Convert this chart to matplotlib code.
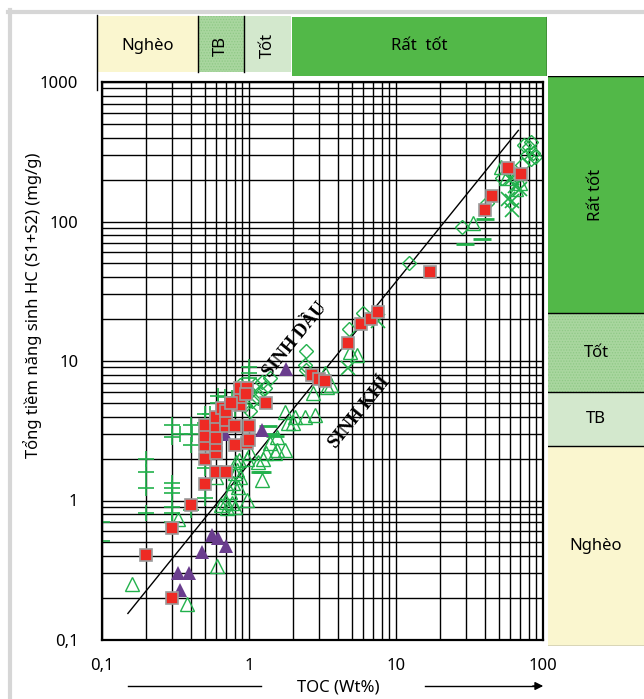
import matplotlib.pyplot as plt
from matplotlib.lines import Line2D

plt.rcParams['font.family'] = ['Noto Sans', 'DejaVu Sans']
plt.rcParams['hatch.linewidth'] = 0.6

# --- data (TOC wt%, S1+S2 mg/g) ---
red_x = [0.2, 0.3, 0.3, 0.4, 0.5, 0.5, 0.5, 0.5, 0.5, 0.6, 0.6, 0.6, 0.6, 0.6,
         0.6, 0.66, 0.7, 0.7, 0.7, 0.7, 0.8, 0.8, 0.87, 0.87, 0.87, 0.97, 0.97,
         1.0, 1.0, 1.3, 0.95, 0.75, 2.7, 3.0, 3.3, 4.7, 5.8, 6.8, 7.5, 17, 40,
         45, 58, 71]
red_y = [0.41, 0.2, 0.63, 0.93, 1.32, 2.0, 2.5, 2.9, 3.5, 1.6, 2.2, 2.5, 2.8,
         3.4, 4.0, 4.6, 1.6, 3.4, 3.8, 4.4, 2.5, 3.4, 4.8, 5.5, 6.4, 6.4, 2.6,
         3.4, 2.7, 5.0, 5.8, 5.0, 7.9, 7.4, 7.2, 13.5, 18.4, 20, 22.4, 43.5, 121,
         152, 242, 219]

purple_x = [0.33, 0.39, 0.34, 0.48, 0.56, 0.62, 0.70, 0.69, 1.22, 1.79]
purple_y = [0.30, 0.30, 0.23, 0.43, 0.57, 0.54, 0.47, 3.0, 3.2, 8.8]

tri_x = [0.16, 0.38, 0.61, 0.33, 0.65, 0.70, 0.77, 0.71, 0.80, 0.97, 0.60, 0.74,
         0.84, 0.81, 0.85, 0.97, 1.01, 1.15, 1.24, 1.22, 1.30, 1.50, 0.80, 0.87,
         0.78, 0.83, 1.76, 1.84, 1.55, 1.39, 1.55, 1.76, 2.05, 2.4, 2.8, 2.0,
         2.73, 3.4, 3.6, 4.86, 5.4, 3.3, 51.8, 56, 70, 66, 33.4]
tri_y = [0.25, 0.18, 0.34, 0.74, 0.93, 0.98, 0.96, 0.88, 0.90, 1.01, 1.47, 1.15,
         1.25, 1.88, 1.96, 2.0, 2.2, 1.88, 2.0, 1.4, 2.2, 2.2, 1.57, 1.47, 1.33,
         1.65, 4.3, 3.6, 2.85, 2.6, 2.3, 2.3, 4.0, 4.0, 4.1, 3.6, 5.9, 6.5, 6.7,
         11.6, 11.0, 8.2, 245, 205, 190, 170, 98]

plus_x = [0.1, 0.1, 0.2, 0.2, 0.2, 0.2, 0.3, 0.3, 0.3, 0.3, 0.3, 0.3, 0.3, 0.3,
          0.4, 0.4, 0.4, 0.5, 0.5, 0.5, 0.5, 0.62, 0.62, 0.62, 0.69, 1.0, 1.0,
          1.0, 0.77, 0.8, 0.54, 0.52, 0.41, 0.34]
plus_y = [0.7, 0.51, 2.0, 1.6, 1.23, 0.81, 1.33, 1.23, 1.13, 0.9, 0.81, 0.7,
          3.5, 2.85, 3.5, 2.5, 0.85, 4.2, 3.6, 1.7, 1.04, 5.0, 5.6, 3.9, 5.5,
          8.2, 7.5, 9.0, 5.4, 4.5, 4.2, 3.3, 3.0, 3.0]

dia_x = [0.89, 0.98, 1.1, 1.19, 1.05, 0.94, 1.22, 1.15, 1.28, 0.84, 1.01, 1.39,
         0.87, 2.44, 2.4, 2.44, 4.8, 6.0, 12.2, 28.3, 41.6, 80, 83, 86, 74, 88,
         59, 72, 53, 78, 83]
dia_y = [5.7, 6.2, 6.7, 6.0, 5.2, 4.8, 7.1, 5.4, 6.4, 5.2, 4.4, 7.6, 6.7, 11.8,
         9.3, 8.6, 17, 22, 50, 91, 136, 340, 370, 310, 355, 290, 230, 255, 205,
         300, 280]

cross_x = [61.5, 61.5, 58, 70, 4.7, 7.6, 61.5, 65]
cross_y = [121, 140, 145, 170, 8.9, 19.3, 205, 180]

dash_x = [29.6, 38.6, 40.5, 1.19, 1.5, 1.35, 1.39, 1.22]
dash_y = [69, 75, 105, 1.6, 2.9, 3.4, 3.0, 1.6]

line_x = [0.15, 68]
line_y = [0.155, 450]

x_ticks = [0.1, 1, 10, 100]
x_labels = ['0,1', '1', '10', '100']
y_ticks = [0.1, 1, 10, 100, 1000]
y_labels = ['0,1', '1', '10', '100', '1000']

# classification bands
toc_lo = [0.0925, 0.45, 0.92, 1.97]
toc_hi = [0.45, 0.92, 1.93, 106]
toc_names = ['Nghèo', 'TB', 'Tốt', 'Rất  tốt']
s_edges = [0.0906, 2.46, 6.0, 22, 1104]
s_names = ['Nghèo', 'TB', 'Tốt', 'Rất tốt']

c_poor = '#faf6cf'
c_fair = '#d3e8cd'
c_good = '#a9d69f'
c_vgood = '#52b848'
green = '#22b14c'

W, H = 644, 699


def box(x0, y0, x1, y1):
    return [x0 / W, 1 - y1 / H, (x1 - x0) / W, (y1 - y0) / H]


fig = plt.figure(figsize=(6.44, 6.99), dpi=100)

# page frame
fig.add_artist(Line2D([10 / W, 10 / W], [0, 1 - 10 / H], color='#d6d6d6', lw=3))
fig.add_artist(Line2D([8 / W, 1], [1 - 12 / H, 1 - 12 / H], color='#d6d6d6', lw=3))

ax = fig.add_axes(box(102, 82, 543, 640))
ax.set_xscale('log')
ax.set_yscale('log')
ax.set_xlim(0.1, 100)
ax.set_ylim(0.1, 1000)
ax.grid(which='both', color='black', lw=1.0)
ax.set_axisbelow(True)
for s in ax.spines.values():
    s.set_linewidth(1.6)
ax.set_xticks(x_ticks)
ax.set_xticklabels(x_labels)
ax.set_yticks(y_ticks)
ax.set_yticklabels(y_labels)
ax.tick_params(which='both', length=0, labelsize=12)
ax.tick_params(axis='x', pad=13)
ax.tick_params(axis='y', pad=17)
fig.text(33 / W, 1 - 305 / H, 'Tổng tiềm năng sinh HC (S1+S2) (mg/g)', rotation=90,
         ha='center', va='center', fontsize=12)

ax.plot(line_x, line_y, color='black', lw=1.0)
ax.plot(plus_x, plus_y, '+', color=green, ms=12, mew=1.2)
ax.plot(dash_x, dash_y, '_', color=green, ms=13, mew=2)
ax.plot(cross_x, cross_y, 'x', color=green, ms=10, mew=1.2)
ax.plot(dia_x, dia_y, 'D', mfc='none', mec=green, ms=7.5, mew=1.0)
ax.plot(tri_x, tri_y, '^', mfc='none', mec=green, ms=10, mew=1.0)
ax.plot(purple_x, purple_y, '^', color='#6a3d8e', ms=10.5, mew=0)
ax.plot(red_x, red_y, 's', mfc='#ee2a24', mec='#9b9b9b', ms=9, mew=1.2)

ax.text(2.06, 14.2, 'SINH DẦU', rotation=51, ha='center', va='center',
        family='Liberation Serif', weight='bold', fontsize=13.5)
ax.text(5.7, 4.3, 'SINH KHÍ', rotation=51, ha='center', va='center',
        family='Liberation Serif', weight='bold', fontsize=13.5)

# x label with arrow
fig.text(338 / W, 1 - 688 / H, 'TOC (Wt%)', ha='center', va='center', fontsize=12)
fig.add_artist(Line2D([128 / W, 261 / W], [1 - 686 / H, 1 - 686 / H], color='black', lw=1))
fig.add_artist(Line2D([425 / W, 535 / W], [1 - 686 / H, 1 - 686 / H], color='black', lw=1))
ax.annotate('', xy=(546 / W, 1 - 686 / H), xytext=(530 / W, 1 - 686 / H),
            xycoords='figure fraction', textcoords='figure fraction',
            arrowprops=dict(arrowstyle='-|>', color='black', lw=1, mutation_scale=12))

# top band (TOC classes)
axt = fig.add_axes(box(97, 15, 547, 76))
axt.set_xscale('log')
axt.set_xlim(toc_lo[0], toc_hi[-1])
axt.set_ylim(0, 1)
axt.axis('off')
top_cols = [c_poor, c_good, c_fair, c_vgood]
top_hatch = [None, '......', None, None]
top_low = [0.066, 0.066, 0.066, 0.0]
top_high = [0.98, 0.98, 0.98, 0.96]
for i in range(4):
    axt.axvspan(toc_lo[i], toc_hi[i], ymin=top_low[i], ymax=top_high[i],
                facecolor=top_cols[i], edgecolor='#8fc986' if top_hatch[i] else 'none',
                hatch=top_hatch[i], lw=0)
for e in toc_hi[:2]:
    axt.axvline(e, ymin=0.066, ymax=0.98, color='black', lw=1)
axt.axvline(toc_hi[-1], ymin=0.0, ymax=0.96, color='black', lw=1)
fig.add_artist(Line2D([97 / W, 97 / W], [1 - 90 / H, 1 - 15 / H], color='black', lw=1))
for i in range(4):
    xc = (toc_lo[i] * toc_hi[i]) ** 0.5
    rot = 90 if toc_names[i] in ('TB', 'Tốt') else 0
    axt.text(xc, 0.5, toc_names[i], ha='center', va='center', rotation=rot, fontsize=12)

# right band (S1+S2 classes)
axr = fig.add_axes(box(548, 76, 644, 646))
axr.set_yscale('log')
axr.set_ylim(s_edges[0], s_edges[-1])
axr.set_xlim(0, 1)
axr.axis('off')
right_cols = [c_poor, c_fair, c_good, c_vgood]
right_hatch = [None, None, '......', None]
for i in range(4):
    axr.axhspan(s_edges[i], s_edges[i + 1], facecolor=right_cols[i],
                edgecolor='#8fc986' if right_hatch[i] else 'none',
                hatch=right_hatch[i], lw=0)
for e in s_edges[1:]:
    axr.axhline(e, color='black', lw=1)
axr.axhline(s_edges[0], color='#555555', lw=1)
for i in range(4):
    yc = (s_edges[i] * s_edges[i + 1]) ** 0.5
    rot = 90 if s_names[i] == 'Rất tốt' else 0
    axr.text(0.5, yc, s_names[i], ha='center', va='center', rotation=rot, fontsize=12)

fig.savefig('out.png', dpi=100)
